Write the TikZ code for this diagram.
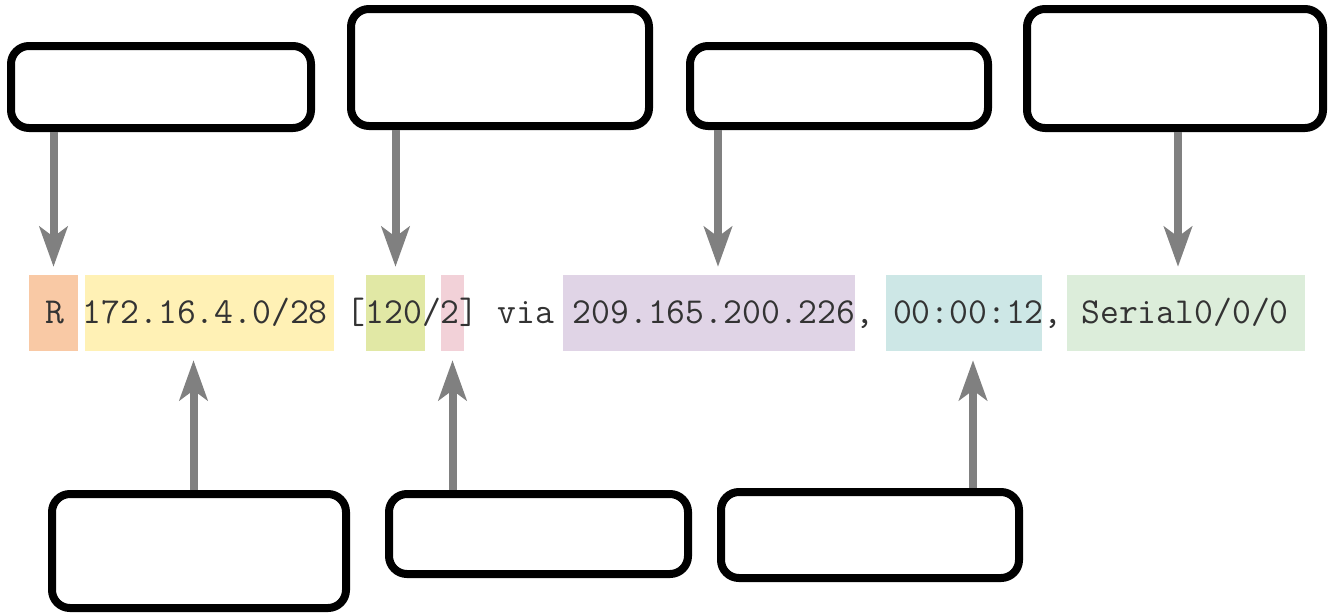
\documentclass[tikz,border=0pt]{standalone}
\usepackage{fontspec}
\usepackage{tikz}
\usetikzlibrary{arrows.meta}

\definecolor{hlpeach}{HTML}{F9C9A5}
\definecolor{hlyellow}{HTML}{FFF1B5}
\definecolor{hllime}{HTML}{E1E8A5}
\definecolor{hlpink}{HTML}{F2D1D8}
\definecolor{hllilac}{HTML}{E0D4E6}
\definecolor{hlcyan}{HTML}{CDE7E6}
\definecolor{hlgreen}{HTML}{DCEDDA}
\definecolor{arrgray}{HTML}{808080}

% fixed-pitch line, spaces as wide as the glyphs
\newcommand\routefont{\fontsize{36.6}{42}\selectfont\ttfamily\spaceskip 18.8pt\relax}

\tikzset{
  callout/.style={draw=black,line width=8pt,rounded corners=18pt,inner sep=0pt},
  hl/.style={fill=#1,draw=none,inner sep=0pt,minimum height=76pt},
  arr/.style={draw=arrgray,line width=8pt,-{Stealth[length=40pt,width=28pt,inset=10pt]}}
}

\begin{document}
\begin{tikzpicture}[x=1pt,y=-1pt]
  \useasboundingbox (0,0) rectangle (1332,613);

  % coloured fields of the route entry
  \node[hl=hlpeach,minimum width=49pt]   (hlR)    at (53.5,313)  {};
  \node[hl=hlyellow,minimum width=249pt] (hlNet)  at (209.5,313) {};
  \node[hl=hllime,minimum width=59pt]    (hlAd)   at (395.5,313) {};
  \node[hl=hlpink,minimum width=23pt]    (hlMet)  at (452.5,313) {};
  \node[hl=hllilac,minimum width=292pt]  (hlHop)  at (709,313)   {};
  \node[hl=hlcyan,minimum width=156pt]   (hlTime) at (964,313)   {};
  \node[hl=hlgreen,minimum width=238pt]  (hlIntf) at (1186,313)  {};
  \node[anchor=base west,inner sep=0pt,text=black!80,font=\routefont] (route) at (45,323)
    {R 172.16.4.0/28 [120/2] via 209.165.200.226, 00:00:12, Serial0/0/0};

  % empty callouts above
  \node[callout,minimum width=300pt,minimum height=82pt]  (cbR)    at (161,87)    {};
  \node[callout,minimum width=298pt,minimum height=117pt] (cbAd)   at (500,67.5)  {};
  \node[callout,minimum width=298pt,minimum height=80pt]  (cbHop)  at (839,86)    {};
  \node[callout,minimum width=296pt,minimum height=119pt] (cbIntf) at (1175,68.5) {};
  % and below
  \node[callout,minimum width=294pt,minimum height=114pt] (cbNet)  at (199,551)   {};
  \node[callout,minimum width=299pt,minimum height=80pt]  (cbMet)  at (538.5,534) {};
  \node[callout,minimum width=298pt,minimum height=86pt]  (cbTime) at (870,535)   {};

  % pointers
  \draw[arr,shorten >=8pt] (hlR.north |- cbR.south) -- (hlR.north);
  \draw[arr,shorten >=8pt] (hlAd.north |- cbAd.south) -- (hlAd.north);
  \draw[arr,shorten >=8pt] ([xshift=9pt]hlHop.north |- cbHop.south) -- ([xshift=9pt]hlHop.north);
  \draw[arr,shorten >=8pt] ([xshift=-8pt]hlIntf.north |- cbIntf.south) -- ([xshift=-8pt]hlIntf.north);
  \draw[arr,shorten >=9pt] ([xshift=-16pt]hlNet.south |- cbNet.north) -- ([xshift=-16pt]hlNet.south);
  \draw[arr,shorten >=9pt] (hlMet.south |- cbMet.north) -- (hlMet.south);
  \draw[arr,shorten >=9pt] ([xshift=9pt]hlTime.south |- cbTime.north) -- ([xshift=9pt]hlTime.south);
\end{tikzpicture}
\end{document}
